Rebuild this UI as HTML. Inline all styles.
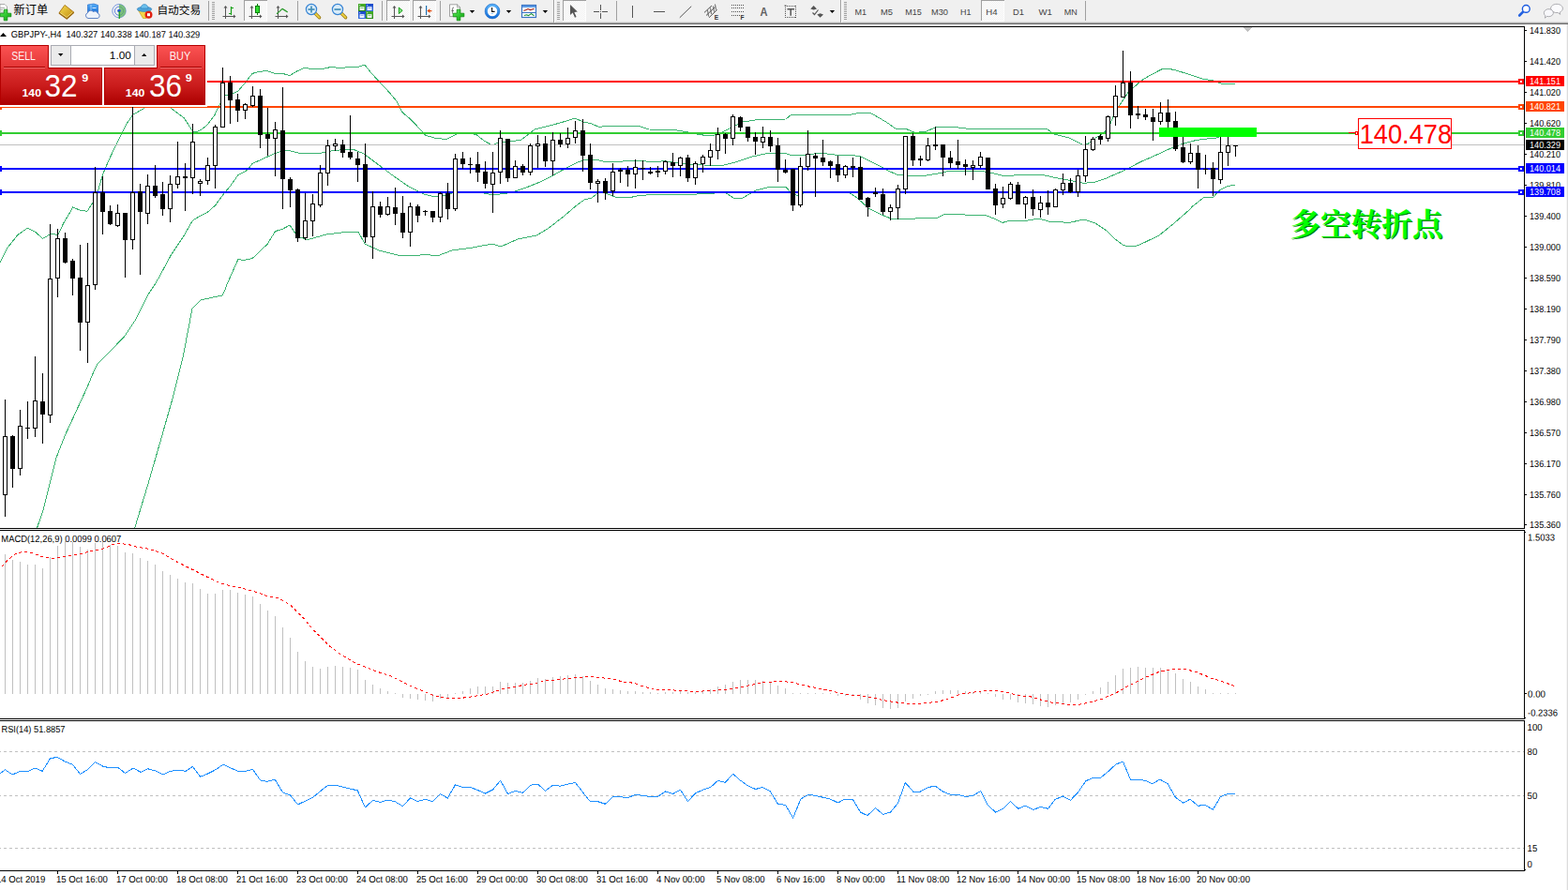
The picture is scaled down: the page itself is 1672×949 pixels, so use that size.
<!DOCTYPE html>
<html><head><meta charset="utf-8"><title>GBPJPY H4</title>
<style>
html,body{margin:0;padding:0;background:#fff;}
body{width:1672px;height:949px;overflow:hidden;position:relative;font-family:"Liberation Sans", sans-serif;}
#tb{position:absolute;left:0;top:0;width:1672px;height:26px;background:#f0f0f0;}
#tbl0{position:absolute;left:0;top:23px;width:1672px;height:1px;background:#dcdcdc;}
#tbl1{position:absolute;left:0;top:24px;width:1672px;height:1px;background:#a6a6a6;}
#tbl2{position:absolute;left:0;top:25px;width:1672px;height:1px;background:#6e6e6e;}
#redge{position:absolute;left:1670px;top:26px;width:2px;height:923px;background:linear-gradient(90deg,#f6f6f6 50%,#dcdcdc 50%);}
svg{position:absolute;left:0;top:0;}
svg text{font-family:"Liberation Sans", sans-serif;}

</style></head>
<body>
<div id="tb"></div><div id="tbl0"></div><div id="tbl1"></div><div id="tbl2"></div><div id="redge"></div>
<svg width="1672" height="949" viewBox="0 0 1672 949">
<defs><clipPath id="mainclip"><rect x="0" y="29" width="1625" height="534"/></clipPath></defs>
<rect x="0" y="28" width="1626" height="1" fill="#000" />
<rect x="0" y="563" width="1626" height="1" fill="#000" />
<rect x="1625" y="28" width="1" height="536" fill="#000" />
<rect x="0" y="565" width="1626" height="1" fill="#000" />
<rect x="0" y="766" width="1626" height="1" fill="#000" />
<rect x="1625" y="565" width="1" height="202" fill="#000" />
<rect x="0" y="768" width="1626" height="1" fill="#000" />
<rect x="0" y="928" width="1626" height="1" fill="#000" />
<rect x="1625" y="768" width="1" height="161" fill="#000" />
<g clip-path="url(#mainclip)" shape-rendering="crispEdges">
<polyline points="0.0,279.8 7.6,264.6 19.0,250.4 29.4,243.2 38.0,247.5 45.5,254.5 54.0,249.4 61.7,250.4 68.3,237.0 77.8,221.0 85.4,224.2 93.0,225.3 99.2,215.6 104.5,203.7 109.8,185.3 116.0,171.0 123.6,154.5 134.5,132.7 142.0,122.0 153.0,116.0 160.0,110.0 168.0,107.5 176.0,110.0 183.0,116.0 196.0,125.5 205.5,140.0 211.0,140.0 215.0,138.0 220.7,133.7 229.0,122.5 235.4,108.8 240.5,101.2 244.0,101.2 249.4,99.2 253.8,97.3 261.0,88.7 268.8,78.7 272.4,77.2 283.9,75.4 292.5,78.3 301.0,78.3 309.0,80.5 315.5,76.5 324.8,72.2 331.3,73.4 344.2,73.4 352.8,71.5 362.8,72.5 372.9,71.5 382.9,71.0 388.7,69.0 396.6,78.7 405.9,88.7 416.0,99.5 423.0,108.0 428.9,119.6 438.9,128.2 449.0,139.0 454.0,144.4 465.0,147.5 476.0,148.4 488.0,142.4 498.0,141.5 508.0,143.6 516.0,150.0 525.0,155.0 533.0,151.0 544.0,151.0 556.0,149.0 570.0,138.0 588.0,133.6 604.0,129.0 613.0,126.0 622.0,130.0 630.0,131.6 639.0,135.6 648.0,134.0 680.0,134.0 692.0,138.0 720.0,138.6 734.0,141.0 746.0,143.6 758.0,145.0 766.0,143.0 780.0,136.0 792.0,130.0 808.0,127.6 838.0,127.0 844.0,122.0 908.0,122.0 916.0,120.4 928.0,120.4 938.0,126.0 948.0,132.0 956.0,138.0 966.0,137.4 976.0,141.5 988.0,140.0 998.0,135.6 1014.0,135.0 1038.0,138.0 1068.0,137.0 1098.0,138.0 1116.0,137.0 1124.0,143.0 1140.0,147.0 1148.0,151.0 1156.0,155.0 1161.0,152.8 1168.0,147.0 1172.0,145.0 1179.0,139.5 1183.0,134.0 1188.0,122.0 1194.0,112.0 1203.0,98.6 1214.0,88.6 1216.4,86.4 1225.0,81.0 1238.5,74.0 1245.0,73.0 1254.0,75.0 1269.5,79.8 1282.7,84.2 1293.8,85.8 1302.7,89.3 1309.0,90.0 1317.0,89.7" fill="none" stroke="#3cb371" stroke-width="1" />
<polyline points="39.4,563.4 46.6,541.9 53.7,513.2 60.0,488.0 69.9,463.0 80.6,439.8 93.0,413.0 98.7,399.3 103.4,388.9 113.9,378.4 132.8,358.5 144.2,341.4 157.5,314.9 164.4,304.5 170.0,295.0 182.2,272.2 195.4,252.5 205.3,235.3 212.5,230.7 221.7,226.0 229.6,218.9 238.9,206.4 245.5,198.4 254.0,186.6 263.9,181.3 269.0,174.5 285.5,167.0 296.0,162.4 306.0,160.0 322.0,164.0 340.0,163.6 356.0,160.4 376.0,159.0 388.0,164.0 404.0,176.0 420.0,188.0 436.0,199.0 452.0,207.0 464.0,210.0 476.0,208.0 488.0,204.0 505.0,204.0 516.0,206.0 526.0,208.0 544.0,205.6 562.0,199.6 576.0,194.0 588.0,188.0 604.0,179.0 616.0,173.0 622.0,171.0 636.0,170.0 646.0,173.0 682.0,171.0 696.0,173.0 708.0,171.6 718.0,173.0 734.0,175.0 750.0,176.0 770.0,176.4 782.0,173.6 802.0,167.0 818.0,163.6 838.0,163.6 844.0,165.6 858.0,165.6 874.0,163.0 890.0,165.0 910.0,165.6 918.0,167.0 928.0,172.0 940.0,178.0 948.0,182.4 956.0,186.0 968.0,187.6 984.0,187.6 1000.0,185.0 1012.0,182.4 1028.0,183.0 1048.0,182.6 1060.0,185.0 1070.0,187.6 1088.0,186.6 1114.0,187.0 1128.0,190.0 1144.0,193.0 1156.0,195.4 1168.0,194.0 1178.8,190.4 1194.0,183.8 1206.0,178.0 1216.0,172.7 1228.0,167.5 1238.5,162.7 1251.6,156.7 1261.8,153.2 1275.7,149.4 1287.0,148.0 1294.7,147.6 1301.0,145.8 1309.0,144.0 1317.0,143.5" fill="none" stroke="#3cb371" stroke-width="1" />
<polyline points="143.7,563.0 159.0,512.4 171.3,469.6 183.5,426.8 195.7,377.9 205.0,329.0 214.0,319.8 237.0,315.0 240.0,309.0 241.5,304.5 254.0,276.4 260.0,277.5 269.2,275.5 285.0,260.4 293.6,246.5 300.8,244.6 309.0,240.0 317.0,252.0 328.0,255.6 348.0,250.0 364.0,248.0 382.0,247.0 389.0,260.0 404.0,267.0 424.0,272.0 444.0,273.0 452.0,271.0 466.0,273.0 482.0,267.0 504.0,264.0 525.0,260.0 534.0,263.0 552.0,255.0 572.0,251.0 584.0,244.0 602.0,230.0 616.0,218.0 624.0,212.4 630.0,211.6 640.0,204.0 656.0,210.0 670.0,211.0 682.0,208.4 708.0,207.0 732.0,208.0 750.0,206.4 774.0,205.6 782.0,211.0 792.0,211.0 806.0,203.0 820.0,199.4 838.0,199.4 844.0,206.0 850.0,208.4 860.0,205.0 906.0,205.6 914.0,211.0 926.0,222.0 940.0,229.0 950.0,233.0 968.0,234.0 984.0,232.0 998.0,233.0 1006.0,229.0 1018.0,228.0 1036.0,229.6 1052.0,230.0 1060.0,233.0 1069.0,237.4 1076.0,235.6 1096.0,235.0 1108.0,233.0 1118.0,236.0 1140.0,237.4 1156.0,234.0 1168.0,238.0 1180.0,246.0 1188.0,254.0 1198.0,261.6 1206.0,263.0 1214.0,261.6 1236.0,251.0 1252.0,238.0 1268.0,224.0 1272.0,219.6 1283.3,211.0 1293.4,210.4 1301.0,202.5 1308.6,198.5 1316.8,197.2" fill="none" stroke="#3cb371" stroke-width="1" />
</g>
<rect x="0" y="154" width="1625" height="1" fill="#c0c0c0" />
<rect x="221" y="86" width="1404" height="2" fill="#ff0000" />
<rect x="0" y="113" width="1625" height="2" fill="#ff4500" />
<rect x="0" y="141" width="1625" height="2" fill="#32cd32" />
<rect x="0" y="179" width="1625" height="2" fill="#0000ff" />
<rect x="0" y="204" width="1625" height="2" fill="#0000ff" />
<rect x="0" y="111" width="2" height="6" fill="#ff4500" />
<rect x="0" y="139" width="2" height="6" fill="#32cd32" />
<rect x="0" y="177" width="2" height="6" fill="#0000ff" />
<rect x="0" y="202" width="2" height="6" fill="#0000ff" />
<g shape-rendering="crispEdges">
<rect x="5" y="426" width="1" height="125" fill="#000" />
<rect x="3" y="465" width="5" height="63" fill="#000" />
<rect x="4" y="466" width="3" height="61" fill="#fff" />
<rect x="13" y="464" width="1" height="56" fill="#000" />
<rect x="11" y="465" width="5" height="35" fill="#000" />
<rect x="21" y="437" width="1" height="70" fill="#000" />
<rect x="19" y="454" width="5" height="46" fill="#000" />
<rect x="20" y="455" width="3" height="44" fill="#fff" />
<rect x="29" y="428" width="1" height="40" fill="#000" />
<rect x="27" y="456" width="5" height="1" fill="#000" />
<rect x="37" y="380" width="1" height="86" fill="#000" />
<rect x="35" y="427" width="5" height="30" fill="#000" />
<rect x="36" y="428" width="3" height="28" fill="#fff" />
<rect x="45" y="398" width="1" height="75" fill="#000" />
<rect x="43" y="428" width="5" height="14" fill="#000" />
<rect x="53" y="239" width="1" height="212" fill="#000" />
<rect x="51" y="297" width="5" height="146" fill="#000" />
<rect x="52" y="298" width="3" height="144" fill="#fff" />
<rect x="61" y="244" width="1" height="73" fill="#000" />
<rect x="59" y="254" width="5" height="43" fill="#000" />
<rect x="60" y="255" width="3" height="41" fill="#fff" />
<rect x="69" y="248" width="1" height="33" fill="#000" />
<rect x="67" y="254" width="5" height="26" fill="#000" />
<rect x="77" y="276" width="1" height="39" fill="#000" />
<rect x="75" y="278" width="5" height="19" fill="#000" />
<rect x="85" y="261" width="1" height="113" fill="#000" />
<rect x="83" y="296" width="5" height="48" fill="#000" />
<rect x="93" y="259" width="1" height="128" fill="#000" />
<rect x="91" y="304" width="5" height="40" fill="#000" />
<rect x="92" y="305" width="3" height="38" fill="#fff" />
<rect x="101" y="178" width="1" height="131" fill="#000" />
<rect x="99" y="205" width="5" height="99" fill="#000" />
<rect x="100" y="206" width="3" height="97" fill="#fff" />
<rect x="109" y="188" width="1" height="62" fill="#000" />
<rect x="107" y="205" width="5" height="21" fill="#000" />
<rect x="117" y="219" width="1" height="21" fill="#000" />
<rect x="115" y="225" width="5" height="14" fill="#000" />
<rect x="125" y="218" width="1" height="24" fill="#000" />
<rect x="123" y="227" width="5" height="14" fill="#000" />
<rect x="124" y="228" width="3" height="12" fill="#fff" />
<rect x="133" y="227" width="1" height="69" fill="#000" />
<rect x="131" y="227" width="5" height="29" fill="#000" />
<rect x="141" y="114" width="1" height="152" fill="#000" />
<rect x="139" y="205" width="5" height="51" fill="#000" />
<rect x="140" y="206" width="3" height="49" fill="#fff" />
<rect x="149" y="196" width="1" height="97" fill="#000" />
<rect x="147" y="204" width="5" height="22" fill="#000" />
<rect x="157" y="186" width="1" height="53" fill="#000" />
<rect x="155" y="198" width="5" height="30" fill="#000" />
<rect x="156" y="199" width="3" height="28" fill="#fff" />
<rect x="165" y="176" width="1" height="35" fill="#000" />
<rect x="163" y="198" width="5" height="11" fill="#000" />
<rect x="173" y="194" width="1" height="36" fill="#000" />
<rect x="171" y="207" width="5" height="16" fill="#000" />
<rect x="181" y="187" width="1" height="50" fill="#000" />
<rect x="179" y="196" width="5" height="27" fill="#000" />
<rect x="180" y="197" width="3" height="25" fill="#fff" />
<rect x="189" y="151" width="1" height="50" fill="#000" />
<rect x="187" y="188" width="5" height="9" fill="#000" />
<rect x="188" y="189" width="3" height="7" fill="#fff" />
<rect x="197" y="174" width="1" height="51" fill="#000" />
<rect x="195" y="188" width="5" height="2" fill="#000" />
<rect x="205" y="132" width="1" height="75" fill="#000" />
<rect x="203" y="151" width="5" height="39" fill="#000" />
<rect x="204" y="152" width="3" height="37" fill="#fff" />
<rect x="213" y="191" width="1" height="18" fill="#000" />
<rect x="211" y="193" width="5" height="3" fill="#000" />
<rect x="212" y="194" width="3" height="1" fill="#fff" />
<rect x="221" y="168" width="1" height="29" fill="#000" />
<rect x="219" y="176" width="5" height="17" fill="#000" />
<rect x="220" y="177" width="3" height="15" fill="#fff" />
<rect x="229" y="133" width="1" height="68" fill="#000" />
<rect x="227" y="135" width="5" height="42" fill="#000" />
<rect x="228" y="136" width="3" height="40" fill="#fff" />
<rect x="237" y="72" width="1" height="64" fill="#000" />
<rect x="235" y="88" width="5" height="48" fill="#000" />
<rect x="236" y="89" width="3" height="46" fill="#fff" />
<rect x="245" y="81" width="1" height="51" fill="#000" />
<rect x="243" y="88" width="5" height="19" fill="#000" />
<rect x="253" y="100" width="1" height="30" fill="#000" />
<rect x="251" y="106" width="5" height="12" fill="#000" />
<rect x="261" y="110" width="1" height="17" fill="#000" />
<rect x="259" y="111" width="5" height="7" fill="#000" />
<rect x="260" y="112" width="3" height="5" fill="#fff" />
<rect x="269" y="92" width="1" height="22" fill="#000" />
<rect x="267" y="102" width="5" height="11" fill="#000" />
<rect x="268" y="103" width="3" height="9" fill="#fff" />
<rect x="277" y="95" width="1" height="63" fill="#000" />
<rect x="275" y="102" width="5" height="42" fill="#000" />
<rect x="285" y="115" width="1" height="51" fill="#000" />
<rect x="283" y="143" width="5" height="5" fill="#000" />
<rect x="293" y="130" width="1" height="58" fill="#000" />
<rect x="291" y="138" width="5" height="10" fill="#000" />
<rect x="292" y="139" width="3" height="8" fill="#fff" />
<rect x="301" y="93" width="1" height="130" fill="#000" />
<rect x="299" y="139" width="5" height="52" fill="#000" />
<rect x="309" y="189" width="1" height="32" fill="#000" />
<rect x="307" y="191" width="5" height="12" fill="#000" />
<rect x="317" y="201" width="1" height="57" fill="#000" />
<rect x="315" y="202" width="5" height="52" fill="#000" />
<rect x="325" y="206" width="1" height="50" fill="#000" />
<rect x="323" y="235" width="5" height="19" fill="#000" />
<rect x="324" y="236" width="3" height="17" fill="#fff" />
<rect x="333" y="207" width="1" height="45" fill="#000" />
<rect x="331" y="217" width="5" height="19" fill="#000" />
<rect x="332" y="218" width="3" height="17" fill="#fff" />
<rect x="341" y="176" width="1" height="45" fill="#000" />
<rect x="339" y="184" width="5" height="35" fill="#000" />
<rect x="340" y="185" width="3" height="33" fill="#fff" />
<rect x="349" y="149" width="1" height="49" fill="#000" />
<rect x="347" y="155" width="5" height="30" fill="#000" />
<rect x="348" y="156" width="3" height="28" fill="#fff" />
<rect x="357" y="148" width="1" height="13" fill="#000" />
<rect x="355" y="153" width="5" height="3" fill="#000" />
<rect x="356" y="154" width="3" height="1" fill="#fff" />
<rect x="365" y="149" width="1" height="19" fill="#000" />
<rect x="363" y="154" width="5" height="9" fill="#000" />
<rect x="373" y="123" width="1" height="47" fill="#000" />
<rect x="371" y="162" width="5" height="6" fill="#000" />
<rect x="381" y="162" width="1" height="32" fill="#000" />
<rect x="379" y="169" width="5" height="7" fill="#000" />
<rect x="389" y="153" width="1" height="106" fill="#000" />
<rect x="387" y="175" width="5" height="78" fill="#000" />
<rect x="397" y="204" width="1" height="72" fill="#000" />
<rect x="395" y="220" width="5" height="33" fill="#000" />
<rect x="396" y="221" width="3" height="31" fill="#fff" />
<rect x="405" y="215" width="1" height="17" fill="#000" />
<rect x="403" y="220" width="5" height="9" fill="#000" />
<rect x="413" y="210" width="1" height="20" fill="#000" />
<rect x="411" y="220" width="5" height="9" fill="#000" />
<rect x="412" y="221" width="3" height="7" fill="#fff" />
<rect x="421" y="200" width="1" height="40" fill="#000" />
<rect x="419" y="221" width="5" height="7" fill="#000" />
<rect x="429" y="209" width="1" height="45" fill="#000" />
<rect x="427" y="227" width="5" height="21" fill="#000" />
<rect x="437" y="216" width="1" height="47" fill="#000" />
<rect x="435" y="220" width="5" height="28" fill="#000" />
<rect x="436" y="221" width="3" height="26" fill="#fff" />
<rect x="445" y="218" width="1" height="19" fill="#000" />
<rect x="443" y="220" width="5" height="10" fill="#000" />
<rect x="453" y="224" width="1" height="6" fill="#000" />
<rect x="451" y="225" width="5" height="1" fill="#000" />
<rect x="461" y="225" width="1" height="12" fill="#000" />
<rect x="459" y="225" width="5" height="7" fill="#000" />
<rect x="469" y="205" width="1" height="32" fill="#000" />
<rect x="467" y="206" width="5" height="26" fill="#000" />
<rect x="468" y="207" width="3" height="24" fill="#fff" />
<rect x="477" y="195" width="1" height="39" fill="#000" />
<rect x="475" y="206" width="5" height="17" fill="#000" />
<rect x="485" y="164" width="1" height="61" fill="#000" />
<rect x="483" y="169" width="5" height="54" fill="#000" />
<rect x="484" y="170" width="3" height="52" fill="#fff" />
<rect x="493" y="162" width="1" height="18" fill="#000" />
<rect x="491" y="169" width="5" height="6" fill="#000" />
<rect x="501" y="168" width="1" height="17" fill="#000" />
<rect x="499" y="175" width="5" height="1" fill="#000" />
<rect x="509" y="162" width="1" height="32" fill="#000" />
<rect x="507" y="175" width="5" height="9" fill="#000" />
<rect x="517" y="172" width="1" height="29" fill="#000" />
<rect x="515" y="183" width="5" height="13" fill="#000" />
<rect x="525" y="162" width="1" height="65" fill="#000" />
<rect x="523" y="184" width="5" height="13" fill="#000" />
<rect x="524" y="185" width="3" height="11" fill="#fff" />
<rect x="533" y="139" width="1" height="57" fill="#000" />
<rect x="531" y="147" width="5" height="37" fill="#000" />
<rect x="532" y="148" width="3" height="35" fill="#fff" />
<rect x="541" y="148" width="1" height="46" fill="#000" />
<rect x="539" y="148" width="5" height="42" fill="#000" />
<rect x="549" y="171" width="1" height="18" fill="#000" />
<rect x="547" y="177" width="5" height="13" fill="#000" />
<rect x="548" y="178" width="3" height="11" fill="#fff" />
<rect x="557" y="175" width="1" height="12" fill="#000" />
<rect x="555" y="177" width="5" height="7" fill="#000" />
<rect x="565" y="153" width="1" height="34" fill="#000" />
<rect x="563" y="155" width="5" height="29" fill="#000" />
<rect x="564" y="156" width="3" height="27" fill="#fff" />
<rect x="573" y="144" width="1" height="35" fill="#000" />
<rect x="571" y="153" width="5" height="3" fill="#000" />
<rect x="572" y="154" width="3" height="1" fill="#fff" />
<rect x="581" y="145" width="1" height="33" fill="#000" />
<rect x="579" y="153" width="5" height="19" fill="#000" />
<rect x="589" y="141" width="1" height="46" fill="#000" />
<rect x="587" y="149" width="5" height="23" fill="#000" />
<rect x="588" y="150" width="3" height="21" fill="#fff" />
<rect x="597" y="142" width="1" height="15" fill="#000" />
<rect x="595" y="149" width="5" height="5" fill="#000" />
<rect x="605" y="136" width="1" height="22" fill="#000" />
<rect x="603" y="147" width="5" height="7" fill="#000" />
<rect x="604" y="148" width="3" height="5" fill="#fff" />
<rect x="613" y="129" width="1" height="24" fill="#000" />
<rect x="611" y="139" width="5" height="8" fill="#000" />
<rect x="612" y="140" width="3" height="6" fill="#fff" />
<rect x="621" y="127" width="1" height="56" fill="#000" />
<rect x="619" y="139" width="5" height="27" fill="#000" />
<rect x="629" y="153" width="1" height="49" fill="#000" />
<rect x="627" y="165" width="5" height="30" fill="#000" />
<rect x="637" y="191" width="1" height="25" fill="#000" />
<rect x="635" y="193" width="5" height="3" fill="#000" />
<rect x="636" y="194" width="3" height="1" fill="#fff" />
<rect x="645" y="190" width="1" height="23" fill="#000" />
<rect x="643" y="193" width="5" height="13" fill="#000" />
<rect x="653" y="174" width="1" height="35" fill="#000" />
<rect x="651" y="183" width="5" height="21" fill="#000" />
<rect x="652" y="184" width="3" height="19" fill="#fff" />
<rect x="661" y="179" width="1" height="16" fill="#000" />
<rect x="659" y="181" width="5" height="2" fill="#000" />
<rect x="669" y="177" width="1" height="22" fill="#000" />
<rect x="667" y="181" width="5" height="5" fill="#000" />
<rect x="677" y="170" width="1" height="31" fill="#000" />
<rect x="675" y="178" width="5" height="8" fill="#000" />
<rect x="676" y="179" width="3" height="6" fill="#fff" />
<rect x="685" y="171" width="1" height="21" fill="#000" />
<rect x="683" y="179" width="5" height="1" fill="#000" />
<rect x="693" y="178" width="1" height="8" fill="#000" />
<rect x="691" y="183" width="5" height="2" fill="#000" />
<rect x="701" y="177" width="1" height="12" fill="#000" />
<rect x="699" y="182" width="5" height="2" fill="#000" />
<rect x="709" y="171" width="1" height="15" fill="#000" />
<rect x="707" y="172" width="5" height="11" fill="#000" />
<rect x="708" y="173" width="3" height="9" fill="#fff" />
<rect x="717" y="163" width="1" height="26" fill="#000" />
<rect x="715" y="173" width="5" height="4" fill="#000" />
<rect x="725" y="167" width="1" height="21" fill="#000" />
<rect x="723" y="168" width="5" height="9" fill="#000" />
<rect x="724" y="169" width="3" height="7" fill="#fff" />
<rect x="733" y="165" width="1" height="29" fill="#000" />
<rect x="731" y="168" width="5" height="22" fill="#000" />
<rect x="741" y="172" width="1" height="25" fill="#000" />
<rect x="739" y="174" width="5" height="16" fill="#000" />
<rect x="740" y="175" width="3" height="14" fill="#fff" />
<rect x="749" y="165" width="1" height="19" fill="#000" />
<rect x="747" y="167" width="5" height="8" fill="#000" />
<rect x="748" y="168" width="3" height="6" fill="#fff" />
<rect x="757" y="153" width="1" height="24" fill="#000" />
<rect x="755" y="160" width="5" height="8" fill="#000" />
<rect x="756" y="161" width="3" height="6" fill="#fff" />
<rect x="765" y="136" width="1" height="34" fill="#000" />
<rect x="763" y="143" width="5" height="18" fill="#000" />
<rect x="764" y="144" width="3" height="16" fill="#fff" />
<rect x="773" y="142" width="1" height="22" fill="#000" />
<rect x="771" y="143" width="5" height="5" fill="#000" />
<rect x="781" y="122" width="1" height="33" fill="#000" />
<rect x="779" y="124" width="5" height="24" fill="#000" />
<rect x="780" y="125" width="3" height="22" fill="#fff" />
<rect x="789" y="124" width="1" height="16" fill="#000" />
<rect x="787" y="125" width="5" height="11" fill="#000" />
<rect x="797" y="135" width="1" height="16" fill="#000" />
<rect x="795" y="135" width="5" height="12" fill="#000" />
<rect x="805" y="141" width="1" height="24" fill="#000" />
<rect x="803" y="146" width="5" height="5" fill="#000" />
<rect x="813" y="135" width="1" height="23" fill="#000" />
<rect x="811" y="146" width="5" height="6" fill="#000" />
<rect x="812" y="147" width="3" height="4" fill="#fff" />
<rect x="821" y="139" width="1" height="23" fill="#000" />
<rect x="819" y="146" width="5" height="10" fill="#000" />
<rect x="829" y="147" width="1" height="47" fill="#000" />
<rect x="827" y="155" width="5" height="26" fill="#000" />
<rect x="837" y="170" width="1" height="15" fill="#000" />
<rect x="835" y="181" width="5" height="3" fill="#000" />
<rect x="845" y="180" width="1" height="45" fill="#000" />
<rect x="843" y="180" width="5" height="39" fill="#000" />
<rect x="853" y="168" width="1" height="53" fill="#000" />
<rect x="851" y="177" width="5" height="42" fill="#000" />
<rect x="852" y="178" width="3" height="40" fill="#fff" />
<rect x="861" y="139" width="1" height="43" fill="#000" />
<rect x="859" y="164" width="5" height="14" fill="#000" />
<rect x="860" y="165" width="3" height="12" fill="#fff" />
<rect x="869" y="163" width="1" height="47" fill="#000" />
<rect x="867" y="166" width="5" height="3" fill="#000" />
<rect x="877" y="149" width="1" height="28" fill="#000" />
<rect x="875" y="168" width="5" height="5" fill="#000" />
<rect x="885" y="171" width="1" height="19" fill="#000" />
<rect x="883" y="172" width="5" height="5" fill="#000" />
<rect x="893" y="166" width="1" height="28" fill="#000" />
<rect x="891" y="175" width="5" height="12" fill="#000" />
<rect x="901" y="176" width="1" height="14" fill="#000" />
<rect x="899" y="177" width="5" height="10" fill="#000" />
<rect x="900" y="178" width="3" height="8" fill="#fff" />
<rect x="909" y="168" width="1" height="21" fill="#000" />
<rect x="907" y="177" width="5" height="2" fill="#000" />
<rect x="917" y="167" width="1" height="45" fill="#000" />
<rect x="915" y="178" width="5" height="35" fill="#000" />
<rect x="925" y="210" width="1" height="21" fill="#000" />
<rect x="923" y="211" width="5" height="10" fill="#000" />
<rect x="933" y="200" width="1" height="10" fill="#000" />
<rect x="931" y="205" width="5" height="2" fill="#000" />
<rect x="941" y="201" width="1" height="28" fill="#000" />
<rect x="939" y="207" width="5" height="19" fill="#000" />
<rect x="949" y="218" width="1" height="17" fill="#000" />
<rect x="947" y="221" width="5" height="5" fill="#000" />
<rect x="948" y="222" width="3" height="3" fill="#fff" />
<rect x="957" y="197" width="1" height="37" fill="#000" />
<rect x="955" y="201" width="5" height="21" fill="#000" />
<rect x="956" y="202" width="3" height="19" fill="#fff" />
<rect x="965" y="145" width="1" height="62" fill="#000" />
<rect x="963" y="145" width="5" height="57" fill="#000" />
<rect x="964" y="146" width="3" height="55" fill="#fff" />
<rect x="973" y="142" width="1" height="35" fill="#000" />
<rect x="971" y="145" width="5" height="26" fill="#000" />
<rect x="981" y="166" width="1" height="11" fill="#000" />
<rect x="979" y="169" width="5" height="2" fill="#000" />
<rect x="989" y="147" width="1" height="25" fill="#000" />
<rect x="987" y="155" width="5" height="16" fill="#000" />
<rect x="988" y="156" width="3" height="14" fill="#fff" />
<rect x="997" y="135" width="1" height="25" fill="#000" />
<rect x="995" y="154" width="5" height="2" fill="#000" />
<rect x="1005" y="154" width="1" height="34" fill="#000" />
<rect x="1003" y="154" width="5" height="14" fill="#000" />
<rect x="1013" y="161" width="1" height="18" fill="#000" />
<rect x="1011" y="168" width="5" height="6" fill="#000" />
<rect x="1021" y="149" width="1" height="31" fill="#000" />
<rect x="1019" y="172" width="5" height="4" fill="#000" />
<rect x="1029" y="170" width="1" height="17" fill="#000" />
<rect x="1027" y="175" width="5" height="3" fill="#000" />
<rect x="1037" y="171" width="1" height="21" fill="#000" />
<rect x="1035" y="176" width="5" height="3" fill="#000" />
<rect x="1036" y="177" width="3" height="1" fill="#fff" />
<rect x="1045" y="162" width="1" height="17" fill="#000" />
<rect x="1043" y="167" width="5" height="10" fill="#000" />
<rect x="1044" y="168" width="3" height="8" fill="#fff" />
<rect x="1053" y="168" width="1" height="33" fill="#000" />
<rect x="1051" y="168" width="5" height="34" fill="#000" />
<rect x="1061" y="196" width="1" height="33" fill="#000" />
<rect x="1059" y="201" width="5" height="18" fill="#000" />
<rect x="1069" y="199" width="1" height="23" fill="#000" />
<rect x="1067" y="211" width="5" height="7" fill="#000" />
<rect x="1068" y="212" width="3" height="5" fill="#fff" />
<rect x="1077" y="194" width="1" height="19" fill="#000" />
<rect x="1075" y="196" width="5" height="16" fill="#000" />
<rect x="1076" y="197" width="3" height="14" fill="#fff" />
<rect x="1085" y="194" width="1" height="23" fill="#000" />
<rect x="1083" y="197" width="5" height="21" fill="#000" />
<rect x="1093" y="209" width="1" height="24" fill="#000" />
<rect x="1091" y="210" width="5" height="8" fill="#000" />
<rect x="1092" y="211" width="3" height="6" fill="#fff" />
<rect x="1101" y="202" width="1" height="28" fill="#000" />
<rect x="1099" y="210" width="5" height="13" fill="#000" />
<rect x="1109" y="209" width="1" height="23" fill="#000" />
<rect x="1107" y="216" width="5" height="8" fill="#000" />
<rect x="1108" y="217" width="3" height="6" fill="#fff" />
<rect x="1117" y="203" width="1" height="26" fill="#000" />
<rect x="1115" y="216" width="5" height="5" fill="#000" />
<rect x="1125" y="201" width="1" height="19" fill="#000" />
<rect x="1123" y="202" width="5" height="19" fill="#000" />
<rect x="1124" y="203" width="3" height="17" fill="#fff" />
<rect x="1133" y="185" width="1" height="23" fill="#000" />
<rect x="1131" y="195" width="5" height="8" fill="#000" />
<rect x="1132" y="196" width="3" height="6" fill="#fff" />
<rect x="1141" y="190" width="1" height="16" fill="#000" />
<rect x="1139" y="195" width="5" height="10" fill="#000" />
<rect x="1149" y="181" width="1" height="29" fill="#000" />
<rect x="1147" y="187" width="5" height="18" fill="#000" />
<rect x="1148" y="188" width="3" height="16" fill="#fff" />
<rect x="1157" y="145" width="1" height="49" fill="#000" />
<rect x="1155" y="159" width="5" height="29" fill="#000" />
<rect x="1156" y="160" width="3" height="27" fill="#fff" />
<rect x="1165" y="146" width="1" height="15" fill="#000" />
<rect x="1163" y="148" width="5" height="12" fill="#000" />
<rect x="1164" y="149" width="3" height="10" fill="#fff" />
<rect x="1173" y="143" width="1" height="11" fill="#000" />
<rect x="1171" y="145" width="5" height="4" fill="#000" />
<rect x="1181" y="123" width="1" height="28" fill="#000" />
<rect x="1179" y="124" width="5" height="24" fill="#000" />
<rect x="1180" y="125" width="3" height="22" fill="#fff" />
<rect x="1189" y="91" width="1" height="43" fill="#000" />
<rect x="1187" y="102" width="5" height="23" fill="#000" />
<rect x="1188" y="103" width="3" height="21" fill="#fff" />
<rect x="1197" y="54" width="1" height="49" fill="#000" />
<rect x="1195" y="88" width="5" height="16" fill="#000" />
<rect x="1196" y="89" width="3" height="14" fill="#fff" />
<rect x="1205" y="76" width="1" height="61" fill="#000" />
<rect x="1203" y="88" width="5" height="35" fill="#000" />
<rect x="1213" y="113" width="1" height="14" fill="#000" />
<rect x="1211" y="121" width="5" height="2" fill="#000" />
<rect x="1221" y="116" width="1" height="12" fill="#000" />
<rect x="1219" y="122" width="5" height="3" fill="#000" />
<rect x="1229" y="116" width="1" height="34" fill="#000" />
<rect x="1227" y="125" width="5" height="5" fill="#000" />
<rect x="1237" y="109" width="1" height="24" fill="#000" />
<rect x="1235" y="120" width="5" height="10" fill="#000" />
<rect x="1236" y="121" width="3" height="8" fill="#fff" />
<rect x="1245" y="106" width="1" height="30" fill="#000" />
<rect x="1243" y="120" width="5" height="10" fill="#000" />
<rect x="1253" y="119" width="1" height="42" fill="#000" />
<rect x="1251" y="129" width="5" height="30" fill="#000" />
<rect x="1261" y="146" width="1" height="28" fill="#000" />
<rect x="1259" y="157" width="5" height="16" fill="#000" />
<rect x="1269" y="153" width="1" height="22" fill="#000" />
<rect x="1267" y="163" width="5" height="10" fill="#000" />
<rect x="1268" y="164" width="3" height="8" fill="#fff" />
<rect x="1277" y="155" width="1" height="46" fill="#000" />
<rect x="1275" y="163" width="5" height="18" fill="#000" />
<rect x="1285" y="165" width="1" height="21" fill="#000" />
<rect x="1283" y="180" width="5" height="1" fill="#000" />
<rect x="1293" y="173" width="1" height="36" fill="#000" />
<rect x="1291" y="179" width="5" height="12" fill="#000" />
<rect x="1301" y="146" width="1" height="50" fill="#000" />
<rect x="1299" y="162" width="5" height="30" fill="#000" />
<rect x="1300" y="163" width="3" height="28" fill="#fff" />
<rect x="1309" y="146" width="1" height="31" fill="#000" />
<rect x="1307" y="155" width="5" height="8" fill="#000" />
<rect x="1308" y="156" width="3" height="6" fill="#fff" />
<rect x="1317" y="155" width="1" height="12" fill="#000" />
<rect x="1315" y="155" width="5" height="1" fill="#000" />
</g>
<rect x="1236" y="136" width="104" height="10" fill="#00ff00" />
<rect x="1326" y="29" width="9" height="1" fill="#c0c0c0" />
<rect x="1327" y="30" width="7" height="1" fill="#c0c0c0" />
<rect x="1328" y="31" width="5" height="1" fill="#c0c0c0" />
<rect x="1329" y="32" width="3" height="1" fill="#c0c0c0" />
<rect x="1330" y="33" width="1" height="1" fill="#c0c0c0" />
<rect x="1626" y="32" width="2" height="1" fill="#000" />
<text transform="translate(1631,36) rotate(0.05) scale(1.0000,1)" font-size="10.2" fill="#000" text-anchor="start" font-weight="normal" textLength="33" lengthAdjust="spacingAndGlyphs" >141.830</text>
<rect x="1626" y="65" width="2" height="1" fill="#000" />
<text transform="translate(1631,69) rotate(0.05) scale(1.0000,1)" font-size="10.2" fill="#000" text-anchor="start" font-weight="normal" textLength="33" lengthAdjust="spacingAndGlyphs" >141.420</text>
<rect x="1626" y="98" width="2" height="1" fill="#000" />
<text transform="translate(1631,102) rotate(0.05) scale(1.0000,1)" font-size="10.2" fill="#000" text-anchor="start" font-weight="normal" textLength="33" lengthAdjust="spacingAndGlyphs" >141.020</text>
<rect x="1626" y="131" width="2" height="1" fill="#000" />
<text transform="translate(1631,135) rotate(0.05) scale(1.0000,1)" font-size="10.2" fill="#000" text-anchor="start" font-weight="normal" textLength="33" lengthAdjust="spacingAndGlyphs" >140.620</text>
<rect x="1626" y="164" width="2" height="1" fill="#000" />
<text transform="translate(1631,168) rotate(0.05) scale(1.0000,1)" font-size="10.2" fill="#000" text-anchor="start" font-weight="normal" textLength="33" lengthAdjust="spacingAndGlyphs" >140.210</text>
<rect x="1626" y="197" width="2" height="1" fill="#000" />
<text transform="translate(1631,201) rotate(0.05) scale(1.0000,1)" font-size="10.2" fill="#000" text-anchor="start" font-weight="normal" textLength="33" lengthAdjust="spacingAndGlyphs" >139.810</text>
<rect x="1626" y="230" width="2" height="1" fill="#000" />
<text transform="translate(1631,234) rotate(0.05) scale(1.0000,1)" font-size="10.2" fill="#000" text-anchor="start" font-weight="normal" textLength="33" lengthAdjust="spacingAndGlyphs" >139.400</text>
<rect x="1626" y="263" width="2" height="1" fill="#000" />
<text transform="translate(1631,267) rotate(0.05) scale(1.0000,1)" font-size="10.2" fill="#000" text-anchor="start" font-weight="normal" textLength="33" lengthAdjust="spacingAndGlyphs" >139.000</text>
<rect x="1626" y="296" width="2" height="1" fill="#000" />
<text transform="translate(1631,300) rotate(0.05) scale(1.0000,1)" font-size="10.2" fill="#000" text-anchor="start" font-weight="normal" textLength="33" lengthAdjust="spacingAndGlyphs" >138.590</text>
<rect x="1626" y="329" width="2" height="1" fill="#000" />
<text transform="translate(1631,333) rotate(0.05) scale(1.0000,1)" font-size="10.2" fill="#000" text-anchor="start" font-weight="normal" textLength="33" lengthAdjust="spacingAndGlyphs" >138.190</text>
<rect x="1626" y="362" width="2" height="1" fill="#000" />
<text transform="translate(1631,366) rotate(0.05) scale(1.0000,1)" font-size="10.2" fill="#000" text-anchor="start" font-weight="normal" textLength="33" lengthAdjust="spacingAndGlyphs" >137.790</text>
<rect x="1626" y="395" width="2" height="1" fill="#000" />
<text transform="translate(1631,399) rotate(0.05) scale(1.0000,1)" font-size="10.2" fill="#000" text-anchor="start" font-weight="normal" textLength="33" lengthAdjust="spacingAndGlyphs" >137.380</text>
<rect x="1626" y="428" width="2" height="1" fill="#000" />
<text transform="translate(1631,432) rotate(0.05) scale(1.0000,1)" font-size="10.2" fill="#000" text-anchor="start" font-weight="normal" textLength="33" lengthAdjust="spacingAndGlyphs" >136.980</text>
<rect x="1626" y="461" width="2" height="1" fill="#000" />
<text transform="translate(1631,465) rotate(0.05) scale(1.0000,1)" font-size="10.2" fill="#000" text-anchor="start" font-weight="normal" textLength="33" lengthAdjust="spacingAndGlyphs" >136.570</text>
<rect x="1626" y="494" width="2" height="1" fill="#000" />
<text transform="translate(1631,498) rotate(0.05) scale(1.0000,1)" font-size="10.2" fill="#000" text-anchor="start" font-weight="normal" textLength="33" lengthAdjust="spacingAndGlyphs" >136.170</text>
<rect x="1626" y="527" width="2" height="1" fill="#000" />
<text transform="translate(1631,531) rotate(0.05) scale(1.0000,1)" font-size="10.2" fill="#000" text-anchor="start" font-weight="normal" textLength="33" lengthAdjust="spacingAndGlyphs" >135.760</text>
<rect x="1626" y="559" width="2" height="1" fill="#000" />
<text transform="translate(1631,563) rotate(0.05) scale(1.0000,1)" font-size="10.2" fill="#000" text-anchor="start" font-weight="normal" textLength="33" lengthAdjust="spacingAndGlyphs" >135.360</text>
<rect x="1619" y="84" width="6" height="6" fill="#ff0000" />
<rect x="1621" y="86" width="2" height="2" fill="#fff" />
<rect x="1627" y="81" width="41" height="11" fill="#ff0000" />
<text transform="translate(1631,90) rotate(0.05) scale(1.0000,1)" font-size="10.2" fill="#fff" text-anchor="start" font-weight="normal" textLength="33" lengthAdjust="spacingAndGlyphs" >141.151</text>
<rect x="1619" y="111" width="6" height="6" fill="#ff4500" />
<rect x="1621" y="113" width="2" height="2" fill="#fff" />
<rect x="1627" y="108" width="41" height="11" fill="#ff4500" />
<text transform="translate(1631,117) rotate(0.05) scale(1.0000,1)" font-size="10.2" fill="#fff" text-anchor="start" font-weight="normal" textLength="33" lengthAdjust="spacingAndGlyphs" >140.821</text>
<rect x="1619" y="139" width="6" height="6" fill="#32cd32" />
<rect x="1621" y="141" width="2" height="2" fill="#fff" />
<rect x="1627" y="136" width="41" height="11" fill="#32cd32" />
<text transform="translate(1631,145) rotate(0.05) scale(1.0000,1)" font-size="10.2" fill="#fff" text-anchor="start" font-weight="normal" textLength="33" lengthAdjust="spacingAndGlyphs" >140.478</text>
<rect x="1627" y="149" width="41" height="11" fill="#000" />
<text transform="translate(1631,158) rotate(0.05) scale(1.0000,1)" font-size="10.2" fill="#fff" text-anchor="start" font-weight="normal" textLength="33" lengthAdjust="spacingAndGlyphs" >140.329</text>
<rect x="1619" y="177" width="6" height="6" fill="#0000ff" />
<rect x="1621" y="179" width="2" height="2" fill="#fff" />
<rect x="1627" y="174" width="41" height="11" fill="#0000ff" />
<text transform="translate(1631,183) rotate(0.05) scale(1.0000,1)" font-size="10.2" fill="#fff" text-anchor="start" font-weight="normal" textLength="33" lengthAdjust="spacingAndGlyphs" >140.014</text>
<rect x="1619" y="202" width="6" height="6" fill="#0000ff" />
<rect x="1621" y="204" width="2" height="2" fill="#fff" />
<rect x="1627" y="199" width="41" height="11" fill="#0000ff" />
<text transform="translate(1631,208) rotate(0.05) scale(1.0000,1)" font-size="10.2" fill="#fff" text-anchor="start" font-weight="normal" textLength="33" lengthAdjust="spacingAndGlyphs" >139.708</text>
<rect x="1438" y="141" width="10" height="1" fill="#ff0000" />
<rect x="1445" y="140" width="3" height="4" fill="#ff0000" />
<rect x="1446" y="141" width="1" height="2" fill="#fff" />
<rect x="1448.5" y="126.5" width="99" height="32" fill="#fff" stroke="#ff0000" stroke-width="1"/>
<text transform="translate(1449.7,153.2)" font-size="30" fill="#ff0000" text-anchor="start" font-weight="normal" textLength="98.4" lengthAdjust="spacingAndGlyphs" >140.478</text>
<text x="1376.7" y="251.8" font-size="32.6" font-weight="bold" fill="#008000" textLength="163" lengthAdjust="spacingAndGlyphs" style="font-family:'Liberation Serif','Noto Serif CJK SC',serif;">多空转折点</text>
<text x="1375.5" y="250.6" font-size="32.6" font-weight="bold" fill="#00ff00" textLength="163" lengthAdjust="spacingAndGlyphs" style="font-family:'Liberation Serif','Noto Serif CJK SC',serif;">多空转折点</text>
<path d="M0 39 L3.5 35 L7 39 Z" fill="#000"/>
<text transform="translate(11.8,40) rotate(0.05) scale(1.0000,1)" font-size="10.2" fill="#000" text-anchor="start" font-weight="normal" textLength="201.5" lengthAdjust="spacingAndGlyphs" >GBPJPY-,H4&#160;&#160;140.327 140.338 140.187 140.329</text>
<g shape-rendering="crispEdges">
<rect x="5" y="591" width="1" height="149" fill="#c0c0c0" />
<rect x="13" y="597" width="1" height="143" fill="#c0c0c0" />
<rect x="21" y="599" width="1" height="141" fill="#c0c0c0" />
<rect x="29" y="602" width="1" height="138" fill="#c0c0c0" />
<rect x="37" y="602" width="1" height="138" fill="#c0c0c0" />
<rect x="45" y="606" width="1" height="134" fill="#c0c0c0" />
<rect x="53" y="594" width="1" height="146" fill="#c0c0c0" />
<rect x="61" y="582" width="1" height="158" fill="#c0c0c0" />
<rect x="69" y="577" width="1" height="163" fill="#c0c0c0" />
<rect x="77" y="578" width="1" height="162" fill="#c0c0c0" />
<rect x="85" y="583" width="1" height="157" fill="#c0c0c0" />
<rect x="93" y="586" width="1" height="154" fill="#c0c0c0" />
<rect x="101" y="579" width="1" height="161" fill="#c0c0c0" />
<rect x="109" y="578" width="1" height="162" fill="#c0c0c0" />
<rect x="117" y="581" width="1" height="159" fill="#c0c0c0" />
<rect x="125" y="582" width="1" height="158" fill="#c0c0c0" />
<rect x="133" y="589" width="1" height="151" fill="#c0c0c0" />
<rect x="141" y="590" width="1" height="150" fill="#c0c0c0" />
<rect x="149" y="595" width="1" height="145" fill="#c0c0c0" />
<rect x="157" y="598" width="1" height="142" fill="#c0c0c0" />
<rect x="165" y="602" width="1" height="138" fill="#c0c0c0" />
<rect x="173" y="609" width="1" height="131" fill="#c0c0c0" />
<rect x="181" y="613" width="1" height="127" fill="#c0c0c0" />
<rect x="189" y="617" width="1" height="123" fill="#c0c0c0" />
<rect x="197" y="621" width="1" height="119" fill="#c0c0c0" />
<rect x="205" y="622" width="1" height="118" fill="#c0c0c0" />
<rect x="213" y="628" width="1" height="112" fill="#c0c0c0" />
<rect x="221" y="633" width="1" height="107" fill="#c0c0c0" />
<rect x="229" y="633" width="1" height="107" fill="#c0c0c0" />
<rect x="237" y="629" width="1" height="111" fill="#c0c0c0" />
<rect x="245" y="629" width="1" height="111" fill="#c0c0c0" />
<rect x="253" y="632" width="1" height="108" fill="#c0c0c0" />
<rect x="261" y="634" width="1" height="106" fill="#c0c0c0" />
<rect x="269" y="636" width="1" height="104" fill="#c0c0c0" />
<rect x="277" y="644" width="1" height="96" fill="#c0c0c0" />
<rect x="285" y="651" width="1" height="89" fill="#c0c0c0" />
<rect x="293" y="657" width="1" height="83" fill="#c0c0c0" />
<rect x="301" y="669" width="1" height="71" fill="#c0c0c0" />
<rect x="309" y="680" width="1" height="60" fill="#c0c0c0" />
<rect x="317" y="695" width="1" height="45" fill="#c0c0c0" />
<rect x="325" y="705" width="1" height="35" fill="#c0c0c0" />
<rect x="333" y="711" width="1" height="29" fill="#c0c0c0" />
<rect x="341" y="713" width="1" height="27" fill="#c0c0c0" />
<rect x="349" y="711" width="1" height="29" fill="#c0c0c0" />
<rect x="357" y="710" width="1" height="30" fill="#c0c0c0" />
<rect x="365" y="711" width="1" height="29" fill="#c0c0c0" />
<rect x="373" y="712" width="1" height="28" fill="#c0c0c0" />
<rect x="381" y="714" width="1" height="26" fill="#c0c0c0" />
<rect x="389" y="725" width="1" height="15" fill="#c0c0c0" />
<rect x="397" y="730" width="1" height="10" fill="#c0c0c0" />
<rect x="405" y="734" width="1" height="6" fill="#c0c0c0" />
<rect x="413" y="737" width="1" height="3" fill="#c0c0c0" />
<rect x="421" y="739" width="1" height="1" fill="#c0c0c0" />
<rect x="429" y="740" width="1" height="4" fill="#c0c0c0" />
<rect x="437" y="740" width="1" height="5" fill="#c0c0c0" />
<rect x="445" y="740" width="1" height="6" fill="#c0c0c0" />
<rect x="453" y="740" width="1" height="7" fill="#c0c0c0" />
<rect x="461" y="740" width="1" height="8" fill="#c0c0c0" />
<rect x="469" y="740" width="1" height="5" fill="#c0c0c0" />
<rect x="477" y="740" width="1" height="5" fill="#c0c0c0" />
<rect x="485" y="739" width="1" height="1" fill="#c0c0c0" />
<rect x="493" y="737" width="1" height="3" fill="#c0c0c0" />
<rect x="501" y="734" width="1" height="6" fill="#c0c0c0" />
<rect x="509" y="732" width="1" height="8" fill="#c0c0c0" />
<rect x="517" y="732" width="1" height="8" fill="#c0c0c0" />
<rect x="525" y="732" width="1" height="8" fill="#c0c0c0" />
<rect x="533" y="727" width="1" height="13" fill="#c0c0c0" />
<rect x="541" y="728" width="1" height="12" fill="#c0c0c0" />
<rect x="549" y="728" width="1" height="12" fill="#c0c0c0" />
<rect x="557" y="728" width="1" height="12" fill="#c0c0c0" />
<rect x="565" y="726" width="1" height="14" fill="#c0c0c0" />
<rect x="573" y="723" width="1" height="17" fill="#c0c0c0" />
<rect x="581" y="724" width="1" height="16" fill="#c0c0c0" />
<rect x="589" y="722" width="1" height="18" fill="#c0c0c0" />
<rect x="597" y="721" width="1" height="19" fill="#c0c0c0" />
<rect x="605" y="720" width="1" height="20" fill="#c0c0c0" />
<rect x="613" y="719" width="1" height="21" fill="#c0c0c0" />
<rect x="621" y="721" width="1" height="19" fill="#c0c0c0" />
<rect x="629" y="726" width="1" height="14" fill="#c0c0c0" />
<rect x="637" y="730" width="1" height="10" fill="#c0c0c0" />
<rect x="645" y="734" width="1" height="6" fill="#c0c0c0" />
<rect x="653" y="735" width="1" height="5" fill="#c0c0c0" />
<rect x="661" y="736" width="1" height="4" fill="#c0c0c0" />
<rect x="669" y="737" width="1" height="3" fill="#c0c0c0" />
<rect x="677" y="737" width="1" height="3" fill="#c0c0c0" />
<rect x="685" y="738" width="1" height="2" fill="#c0c0c0" />
<rect x="693" y="738" width="1" height="2" fill="#c0c0c0" />
<rect x="701" y="739" width="1" height="1" fill="#c0c0c0" />
<rect x="709" y="738" width="1" height="2" fill="#c0c0c0" />
<rect x="717" y="738" width="1" height="2" fill="#c0c0c0" />
<rect x="725" y="737" width="1" height="3" fill="#c0c0c0" />
<rect x="733" y="738" width="1" height="2" fill="#c0c0c0" />
<rect x="741" y="738" width="1" height="2" fill="#c0c0c0" />
<rect x="749" y="737" width="1" height="3" fill="#c0c0c0" />
<rect x="757" y="735" width="1" height="5" fill="#c0c0c0" />
<rect x="765" y="732" width="1" height="8" fill="#c0c0c0" />
<rect x="773" y="730" width="1" height="10" fill="#c0c0c0" />
<rect x="781" y="727" width="1" height="13" fill="#c0c0c0" />
<rect x="789" y="725" width="1" height="15" fill="#c0c0c0" />
<rect x="797" y="725" width="1" height="15" fill="#c0c0c0" />
<rect x="805" y="725" width="1" height="15" fill="#c0c0c0" />
<rect x="813" y="726" width="1" height="14" fill="#c0c0c0" />
<rect x="821" y="727" width="1" height="13" fill="#c0c0c0" />
<rect x="829" y="731" width="1" height="9" fill="#c0c0c0" />
<rect x="837" y="734" width="1" height="6" fill="#c0c0c0" />
<rect x="845" y="739" width="1" height="1" fill="#c0c0c0" />
<rect x="853" y="739" width="1" height="1" fill="#c0c0c0" />
<rect x="861" y="739" width="1" height="1" fill="#c0c0c0" />
<rect x="869" y="739" width="1" height="1" fill="#c0c0c0" />
<rect x="877" y="739" width="1" height="1" fill="#c0c0c0" />
<rect x="885" y="739" width="1" height="1" fill="#c0c0c0" />
<rect x="893" y="740" width="1" height="2" fill="#c0c0c0" />
<rect x="901" y="740" width="1" height="2" fill="#c0c0c0" />
<rect x="909" y="740" width="1" height="2" fill="#c0c0c0" />
<rect x="917" y="740" width="1" height="6" fill="#c0c0c0" />
<rect x="925" y="740" width="1" height="10" fill="#c0c0c0" />
<rect x="933" y="740" width="1" height="12" fill="#c0c0c0" />
<rect x="941" y="740" width="1" height="15" fill="#c0c0c0" />
<rect x="949" y="740" width="1" height="16" fill="#c0c0c0" />
<rect x="957" y="740" width="1" height="15" fill="#c0c0c0" />
<rect x="965" y="740" width="1" height="8" fill="#c0c0c0" />
<rect x="973" y="740" width="1" height="5" fill="#c0c0c0" />
<rect x="981" y="740" width="1" height="2" fill="#c0c0c0" />
<rect x="989" y="740" width="1" height="1" fill="#c0c0c0" />
<rect x="997" y="737" width="1" height="3" fill="#c0c0c0" />
<rect x="1005" y="736" width="1" height="4" fill="#c0c0c0" />
<rect x="1013" y="736" width="1" height="4" fill="#c0c0c0" />
<rect x="1021" y="736" width="1" height="4" fill="#c0c0c0" />
<rect x="1029" y="737" width="1" height="3" fill="#c0c0c0" />
<rect x="1037" y="738" width="1" height="2" fill="#c0c0c0" />
<rect x="1045" y="738" width="1" height="2" fill="#c0c0c0" />
<rect x="1053" y="739" width="1" height="1" fill="#c0c0c0" />
<rect x="1061" y="740" width="1" height="3" fill="#c0c0c0" />
<rect x="1069" y="740" width="1" height="6" fill="#c0c0c0" />
<rect x="1077" y="740" width="1" height="6" fill="#c0c0c0" />
<rect x="1085" y="740" width="1" height="9" fill="#c0c0c0" />
<rect x="1093" y="740" width="1" height="10" fill="#c0c0c0" />
<rect x="1101" y="740" width="1" height="11" fill="#c0c0c0" />
<rect x="1109" y="740" width="1" height="13" fill="#c0c0c0" />
<rect x="1117" y="740" width="1" height="14" fill="#c0c0c0" />
<rect x="1125" y="740" width="1" height="12" fill="#c0c0c0" />
<rect x="1133" y="740" width="1" height="11" fill="#c0c0c0" />
<rect x="1141" y="740" width="1" height="9" fill="#c0c0c0" />
<rect x="1149" y="740" width="1" height="6" fill="#c0c0c0" />
<rect x="1157" y="740" width="1" height="1" fill="#c0c0c0" />
<rect x="1165" y="737" width="1" height="3" fill="#c0c0c0" />
<rect x="1173" y="733" width="1" height="7" fill="#c0c0c0" />
<rect x="1181" y="727" width="1" height="13" fill="#c0c0c0" />
<rect x="1189" y="720" width="1" height="20" fill="#c0c0c0" />
<rect x="1197" y="713" width="1" height="27" fill="#c0c0c0" />
<rect x="1205" y="712" width="1" height="28" fill="#c0c0c0" />
<rect x="1213" y="711" width="1" height="29" fill="#c0c0c0" />
<rect x="1221" y="712" width="1" height="28" fill="#c0c0c0" />
<rect x="1229" y="712" width="1" height="28" fill="#c0c0c0" />
<rect x="1237" y="712" width="1" height="28" fill="#c0c0c0" />
<rect x="1245" y="715" width="1" height="25" fill="#c0c0c0" />
<rect x="1253" y="718" width="1" height="22" fill="#c0c0c0" />
<rect x="1261" y="724" width="1" height="16" fill="#c0c0c0" />
<rect x="1269" y="727" width="1" height="13" fill="#c0c0c0" />
<rect x="1277" y="732" width="1" height="8" fill="#c0c0c0" />
<rect x="1285" y="735" width="1" height="5" fill="#c0c0c0" />
<rect x="1293" y="739" width="1" height="1" fill="#c0c0c0" />
<rect x="1301" y="739" width="1" height="1" fill="#c0c0c0" />
<rect x="1309" y="739" width="1" height="1" fill="#c0c0c0" />
<rect x="1317" y="739" width="1" height="1" fill="#c0c0c0" />
</g>
<polyline points="2.2,604.2 8.8,596.5 17.7,589.9 26.5,588.1 35.4,589.9 44.2,593.6 55.3,595.4 66.4,593.6 84.0,591.0 97.3,587.7 110.6,584.8 119.5,581.0 128.3,579.5 137.2,580.6 146.0,583.2 159.3,585.4 172.6,589.9 188.0,598.7 203.5,606.5 221.2,615.3 236.7,622.6 254.4,626.4 270.0,630.1 285.4,635.9 296.5,637.4 309.7,645.2 323.0,658.5 336.3,674.0 349.6,687.2 353.0,690.2 365.0,699.0 377.6,706.5 390.2,711.5 402.8,716.5 415.3,720.3 427.9,726.6 437.9,731.6 450.5,736.6 460.6,740.9 470.6,743.4 480.7,744.7 493.2,744.2 505.8,742.4 520.9,739.9 533.4,735.4 546.0,732.9 558.5,730.4 571.0,728.6 581.0,726.1 596.2,724.6 611.3,722.8 628.9,721.6 641.5,722.8 654.0,724.0 664.0,727.1 676.6,728.3 686.7,732.4 701.8,735.4 721.9,736.1 742.0,737.4 757.0,736.6 772.6,735.4 785.0,733.6 797.7,731.1 810.3,728.3 822.8,727.1 831.6,726.1 845.4,727.8 860.5,731.6 875.6,734.6 890.7,737.9 905.7,740.9 920.8,742.4 933.4,744.7 945.9,747.4 961.0,749.7 976.0,750.5 991.2,749.2 1001.2,748.0 1013.8,744.2 1023.8,740.4 1036.4,738.4 1049.0,736.6 1061.5,736.6 1074.0,738.6 1086.6,741.7 1099.2,742.9 1111.8,746.7 1121.8,749.2 1136.9,751.0 1152.0,751.0 1164.5,748.4 1175.3,745.2 1190.6,738.5 1206.0,730.0 1221.2,722.3 1236.5,716.2 1251.9,713.1 1265.6,714.0 1276.3,716.8 1291.7,723.2 1303.9,726.9 1316.0,731.5" fill="none" stroke="#ff0000" stroke-width="1" stroke-dasharray="3 3" shape-rendering="crispEdges"/>
<text transform="translate(1.3,578) rotate(0.05) scale(1.0000,1)" font-size="10.2" fill="#000" text-anchor="start" font-weight="normal" textLength="128" lengthAdjust="spacingAndGlyphs" >MACD(12,26,9) 0.0099 0.0607</text>
<text transform="translate(1629,576.5) rotate(0.05) scale(1.0000,1)" font-size="10.2" fill="#000" text-anchor="start" font-weight="normal" textLength="29" lengthAdjust="spacingAndGlyphs" >1.5033</text>
<text transform="translate(1629,743.5) rotate(0.05) scale(1.0000,1)" font-size="10.2" fill="#000" text-anchor="start" font-weight="normal" textLength="19" lengthAdjust="spacingAndGlyphs" >0.00</text>
<text transform="translate(1629,763.5) rotate(0.05) scale(1.0000,1)" font-size="10.2" fill="#000" text-anchor="start" font-weight="normal" textLength="32" lengthAdjust="spacingAndGlyphs" >-0.2336</text>
<rect x="1626" y="567" width="1" height="1" fill="#000" />
<rect x="1626" y="739" width="2" height="1" fill="#000" />
<rect x="1626" y="765" width="1" height="1" fill="#000" />
<line x1="0" y1="801.5" x2="1625" y2="801.5" stroke="#c0c0c0" stroke-width="1" stroke-dasharray="3 3" stroke-dashoffset="2" shape-rendering="crispEdges"/>
<line x1="0" y1="848.5" x2="1625" y2="848.5" stroke="#c0c0c0" stroke-width="1" stroke-dasharray="3 3" stroke-dashoffset="2" shape-rendering="crispEdges"/>
<line x1="0" y1="904.5" x2="1625" y2="904.5" stroke="#c0c0c0" stroke-width="1" stroke-dasharray="3 3" stroke-dashoffset="2" shape-rendering="crispEdges"/>
<polyline points="0.0,824.8 5.5,820.8 13.3,826.0 21.4,822.3 30.1,822.3 37.7,819.0 45.2,822.3 53.3,809.0 61.0,807.2 69.1,812.0 77.4,815.2 85.4,825.3 93.4,820.8 101.5,812.7 109.5,817.0 117.6,819.0 125.6,818.3 133.6,824.5 141.9,819.0 150.0,823.3 157.8,819.8 165.8,822.0 173.8,826.0 181.9,822.3 189.9,821.0 198.0,822.3 205.5,817.3 213.5,828.3 222.0,824.8 229.8,820.8 237.9,815.2 246.2,819.0 253.7,822.3 262.0,822.3 269.5,820.3 277.6,832.0 285.1,833.3 293.2,831.0 301.4,844.9 309.5,847.9 317.5,857.9 325.5,854.2 333.6,850.4 341.6,843.6 349.6,837.3 357.9,837.3 365.5,839.1 373.7,841.1 381.3,842.9 389.3,861.0 397.6,853.4 405.2,855.4 413.5,853.1 421.3,854.8 429.3,859.6 437.6,851.0 445.2,854.6 453.2,852.3 461.2,854.6 469.3,846.5 477.3,851.0 485.4,837.0 493.4,839.5 501.7,839.5 509.7,842.7 517.5,846.0 525.5,842.0 533.6,832.2 541.6,846.5 549.7,843.3 557.4,845.3 565.7,837.2 573.3,836.0 581.6,843.3 589.6,837.2 597.1,838.2 605.9,836.0 613.5,834.5 621.5,844.8 629.3,854.6 637.3,854.6 645.4,857.3 653.4,849.5 661.2,849.5 669.2,850.8 677.5,847.3 685.6,848.3 693.3,849.5 701.4,849.5 709.4,844.0 717.5,846.5 725.5,842.2 733.5,854.6 741.6,845.8 749.6,842.2 757.6,839.5 765.7,832.2 773.2,834.5 781.5,825.2 789.3,832.0 797.3,837.7 805.6,841.5 813.2,839.5 821.2,843.8 829.5,857.2 837.6,858.3 845.6,872.1 853.9,852.0 862.0,847.3 870.2,848.5 877.8,850.3 885.8,852.3 893.6,856.0 901.1,852.0 909.2,852.0 917.5,866.1 925.0,869.6 933.5,861.6 941.8,868.4 949.4,866.1 957.4,856.6 965.4,834.5 973.7,844.0 981.5,844.0 989.6,839.5 997.3,838.2 1005.4,844.0 1013.4,847.3 1021.7,847.3 1029.7,849.5 1037.8,848.3 1045.6,843.5 1053.1,858.3 1061.6,866.1 1069.4,862.3 1077.5,854.6 1085.8,862.3 1093.3,859.1 1101.8,863.6 1109.4,860.3 1117.7,862.3 1125.2,852.3 1133.5,849.0 1141.5,853.3 1149.6,844.8 1157.9,832.7 1165.4,829.4 1173.4,829.4 1181.7,822.7 1189.8,815.1 1197.5,812.1 1205.6,831.4 1216.9,831.4 1221.9,832.7 1229.0,835.7 1236.8,831.0 1245.3,835.8 1253.3,850.1 1261.7,856.2 1269.0,852.2 1277.6,859.4 1284.2,858.0 1293.4,863.3 1301.4,849.6 1309.3,846.4 1316.7,846.4" fill="none" stroke="#1e90ff" stroke-width="1" shape-rendering="crispEdges"/>
<text transform="translate(1.5,781) rotate(0.05) scale(1.0000,1)" font-size="10.2" fill="#000" text-anchor="start" font-weight="normal" textLength="68" lengthAdjust="spacingAndGlyphs" >RSI(14) 51.8857</text>
<text transform="translate(1628.6,779.0) rotate(0.05) scale(0.9412,1)" font-size="10.2" fill="#000" text-anchor="start" font-weight="normal" >100</text>
<text transform="translate(1628.6,805.0) rotate(0.05) scale(0.9412,1)" font-size="10.2" fill="#000" text-anchor="start" font-weight="normal" >80</text>
<text transform="translate(1628.6,852.0) rotate(0.05) scale(0.9412,1)" font-size="10.2" fill="#000" text-anchor="start" font-weight="normal" >50</text>
<text transform="translate(1628.6,908.0) rotate(0.05) scale(0.9412,1)" font-size="10.2" fill="#000" text-anchor="start" font-weight="normal" >15</text>
<text transform="translate(1628.6,925.0) rotate(0.05) scale(0.9412,1)" font-size="10.2" fill="#000" text-anchor="start" font-weight="normal" >0</text>
<rect x="1626" y="927" width="1" height="1" fill="#000" />
<text transform="translate(-4,941) rotate(0.05) scale(0.9412,1)" font-size="10.2" fill="#000" text-anchor="start" font-weight="normal" >14 Oct 2019</text>
<rect x="61" y="929" width="1" height="3" fill="#000" />
<text transform="translate(60,941) rotate(0.05) scale(0.9412,1)" font-size="10.2" fill="#000" text-anchor="start" font-weight="normal" >15 Oct 16:00</text>
<rect x="125" y="929" width="1" height="3" fill="#000" />
<text transform="translate(124,941) rotate(0.05) scale(0.9412,1)" font-size="10.2" fill="#000" text-anchor="start" font-weight="normal" >17 Oct 00:00</text>
<rect x="189" y="929" width="1" height="3" fill="#000" />
<text transform="translate(188,941) rotate(0.05) scale(0.9412,1)" font-size="10.2" fill="#000" text-anchor="start" font-weight="normal" >18 Oct 08:00</text>
<rect x="253" y="929" width="1" height="3" fill="#000" />
<text transform="translate(252,941) rotate(0.05) scale(0.9412,1)" font-size="10.2" fill="#000" text-anchor="start" font-weight="normal" >21 Oct 16:00</text>
<rect x="317" y="929" width="1" height="3" fill="#000" />
<text transform="translate(316,941) rotate(0.05) scale(0.9412,1)" font-size="10.2" fill="#000" text-anchor="start" font-weight="normal" >23 Oct 00:00</text>
<rect x="381" y="929" width="1" height="3" fill="#000" />
<text transform="translate(380,941) rotate(0.05) scale(0.9412,1)" font-size="10.2" fill="#000" text-anchor="start" font-weight="normal" >24 Oct 08:00</text>
<rect x="445" y="929" width="1" height="3" fill="#000" />
<text transform="translate(444,941) rotate(0.05) scale(0.9412,1)" font-size="10.2" fill="#000" text-anchor="start" font-weight="normal" >25 Oct 16:00</text>
<rect x="509" y="929" width="1" height="3" fill="#000" />
<text transform="translate(508,941) rotate(0.05) scale(0.9412,1)" font-size="10.2" fill="#000" text-anchor="start" font-weight="normal" >29 Oct 00:00</text>
<rect x="573" y="929" width="1" height="3" fill="#000" />
<text transform="translate(572,941) rotate(0.05) scale(0.9412,1)" font-size="10.2" fill="#000" text-anchor="start" font-weight="normal" >30 Oct 08:00</text>
<rect x="637" y="929" width="1" height="3" fill="#000" />
<text transform="translate(636,941) rotate(0.05) scale(0.9412,1)" font-size="10.2" fill="#000" text-anchor="start" font-weight="normal" >31 Oct 16:00</text>
<rect x="701" y="929" width="1" height="3" fill="#000" />
<text transform="translate(700,941) rotate(0.05) scale(0.9412,1)" font-size="10.2" fill="#000" text-anchor="start" font-weight="normal" >4 Nov 00:00</text>
<rect x="765" y="929" width="1" height="3" fill="#000" />
<text transform="translate(764,941) rotate(0.05) scale(0.9412,1)" font-size="10.2" fill="#000" text-anchor="start" font-weight="normal" >5 Nov 08:00</text>
<rect x="829" y="929" width="1" height="3" fill="#000" />
<text transform="translate(828,941) rotate(0.05) scale(0.9412,1)" font-size="10.2" fill="#000" text-anchor="start" font-weight="normal" >6 Nov 16:00</text>
<rect x="893" y="929" width="1" height="3" fill="#000" />
<text transform="translate(892,941) rotate(0.05) scale(0.9412,1)" font-size="10.2" fill="#000" text-anchor="start" font-weight="normal" >8 Nov 00:00</text>
<rect x="957" y="929" width="1" height="3" fill="#000" />
<text transform="translate(956,941) rotate(0.05) scale(0.9412,1)" font-size="10.2" fill="#000" text-anchor="start" font-weight="normal" >11 Nov 08:00</text>
<rect x="1021" y="929" width="1" height="3" fill="#000" />
<text transform="translate(1020,941) rotate(0.05) scale(0.9412,1)" font-size="10.2" fill="#000" text-anchor="start" font-weight="normal" >12 Nov 16:00</text>
<rect x="1085" y="929" width="1" height="3" fill="#000" />
<text transform="translate(1084,941) rotate(0.05) scale(0.9412,1)" font-size="10.2" fill="#000" text-anchor="start" font-weight="normal" >14 Nov 00:00</text>
<rect x="1149" y="929" width="1" height="3" fill="#000" />
<text transform="translate(1148,941) rotate(0.05) scale(0.9412,1)" font-size="10.2" fill="#000" text-anchor="start" font-weight="normal" >15 Nov 08:00</text>
<rect x="1213" y="929" width="1" height="3" fill="#000" />
<text transform="translate(1212,941) rotate(0.05) scale(0.9412,1)" font-size="10.2" fill="#000" text-anchor="start" font-weight="normal" >18 Nov 16:00</text>
<rect x="1277" y="929" width="1" height="3" fill="#000" />
<text transform="translate(1276,941) rotate(0.05) scale(0.9412,1)" font-size="10.2" fill="#000" text-anchor="start" font-weight="normal" >20 Nov 00:00</text>
<defs>
<linearGradient id="gbtn" x1="0" y1="0" x2="0" y2="1"><stop offset="0" stop-color="#fb5252"/><stop offset="1" stop-color="#e23535"/></linearGradient>
<linearGradient id="gbig" x1="0" y1="0" x2="0" y2="1"><stop offset="0" stop-color="#dc3030"/><stop offset="0.5" stop-color="#c91b1b"/><stop offset="1" stop-color="#ad0000"/></linearGradient>
</defs>
<rect x="0" y="48" width="221" height="66" fill="#fff"/>
<rect x="0" y="72" width="109" height="40" fill="#b40000"/>
<rect x="1" y="73" width="107" height="38" fill="url(#gbig)"/>
<rect x="0" y="48" width="52" height="25" fill="#b40000"/>
<rect x="1" y="49" width="50" height="24" fill="url(#gbtn)"/>
<rect x="4" y="71" width="44" height="1" fill="#a80000"/>
<rect x="4" y="72" width="44" height="1" fill="#f06a6a"/>
<rect x="111" y="72" width="108" height="40" fill="#b40000"/>
<rect x="112" y="73" width="106" height="38" fill="url(#gbig)"/>
<rect x="167" y="48" width="52" height="25" fill="#b40000"/>
<rect x="168" y="49" width="50" height="24" fill="url(#gbtn)"/>
<rect x="171" y="71" width="44" height="1" fill="#a80000"/>
<rect x="171" y="72" width="44" height="1" fill="#f06a6a"/>
<text x="12.2" y="64" font-size="12" textLength="25.6" fill="#fff" lengthAdjust="spacingAndGlyphs" fill-opacity="0.95">SELL</text>
<text x="180.8" y="64" font-size="12" textLength="22.5" fill="#fff" lengthAdjust="spacingAndGlyphs" fill-opacity="0.95">BUY</text>
<text x="23.5" y="102.6" font-size="11.6" font-weight="bold" textLength="20.5" fill="#fff" lengthAdjust="spacingAndGlyphs">140</text>
<text x="133.8" y="102.6" font-size="11.6" font-weight="bold" textLength="20.5" fill="#fff" lengthAdjust="spacingAndGlyphs">140</text>
<text x="47.6" y="103" font-size="33.2" textLength="35" fill="#fff" lengthAdjust="spacingAndGlyphs">32</text>
<text x="159" y="103" font-size="33.2" textLength="35" fill="#fff" lengthAdjust="spacingAndGlyphs">36</text>
<text x="87.2" y="86.8" font-size="11.6" font-weight="bold" textLength="7" fill="#fff" lengthAdjust="spacingAndGlyphs">9</text>
<text x="197.8" y="86.8" font-size="11.6" font-weight="bold" textLength="7" fill="#fff" lengthAdjust="spacingAndGlyphs">9</text>
<rect x="54.5" y="48.5" width="110" height="21" fill="#fff" stroke="#a9abb3" stroke-width="1"/>
<rect x="55" y="49" width="20" height="20" fill="#ebebeb"/>
<rect x="144" y="49" width="20" height="20" fill="#ebebeb"/>
<rect x="75" y="49" width="1" height="20" fill="#a9abb3"/>
<rect x="143" y="49" width="1" height="20" fill="#a9abb3"/>
<path d="M62 57 L67.4 57 L64.7 60 Z" fill="#000"/>
<path d="M151 60 L156.4 60 L153.7 57 Z" fill="#000"/>
<text x="139.8" y="62.6" font-size="11.8" text-anchor="end" fill="#000">1.00</text><defs>
<linearGradient id="gplus" x1="0" y1="0" x2="1" y2="1"><stop offset="0" stop-color="#5cf05c"/><stop offset="1" stop-color="#0aa00a"/></linearGradient>
<linearGradient id="ggold" x1="0" y1="0" x2="1" y2="1"><stop offset="0" stop-color="#f6dc50"/><stop offset="1" stop-color="#c08a10"/></linearGradient>
<linearGradient id="gblue" x1="0" y1="0" x2="0" y2="1"><stop offset="0" stop-color="#58b0f8"/><stop offset="1" stop-color="#1870d8"/></linearGradient>
<linearGradient id="ggrn" x1="0" y1="0" x2="0" y2="1"><stop offset="0" stop-color="#48b028"/><stop offset="1" stop-color="#2a8a18"/></linearGradient>
<linearGradient id="gblu2" x1="0" y1="0" x2="0" y2="1"><stop offset="0" stop-color="#1848c8"/><stop offset="1" stop-color="#3870e0"/></linearGradient>
<pattern id="chk" width="2" height="2" patternUnits="userSpaceOnUse"><rect width="2" height="2" fill="#fff"/><rect width="1" height="1" fill="#f0f0f0"/><rect x="1" y="1" width="1" height="1" fill="#f0f0f0"/></pattern>
</defs>
<path d="M0 4.5 H5 L7.5 7 V13 H0 Z" fill="#fff" stroke="#999" stroke-width="0.8"/>
<path d="M0 8.5 H5 M0 10.5 H3" stroke="#aaa" stroke-width="1"/>
<path d="M4.2 10.2 h3.6 v4.0 h4.0 v3.6 h-4.0 v4.0 h-3.6 v-4.0 h-4.0 v-3.6 h4.0 Z" fill="url(#gplus)" stroke="#0a8c0a" stroke-width="0.8"/>
<text x="14.6" y="15" font-size="12.2" fill="#000" textLength="36.6" lengthAdjust="spacingAndGlyphs" style="font-family:'Liberation Sans','Noto Sans CJK SC',sans-serif;">新订单</text>
<path d="M69 5.4 L78.7 13 L71.2 19.8 L63 13.7 Z" fill="url(#ggold)" stroke="#a87410" stroke-width="0.9"/>
<path d="M63 13.9 L71.2 19.9 L78.7 13.2" stroke="#9a6a12" stroke-width="1.5" fill="none" stroke-linejoin="round"/>
<path d="M64.2 13.6 L71.2 18.4 L77.4 13" stroke="#f8e48a" stroke-width="0.8" fill="none"/>
<path d="M93.5 5 L100 4 L104.5 5.5 V13.5 H93.5 Z" fill="url(#gblue)" stroke="#1c64c8" stroke-width="0.6"/>
<path d="M97 5 V13" stroke="#b8dcff" stroke-width="0.8"/><rect x="98.5" y="8" width="4" height="1" fill="#d8ecff"/>
<path d="M94 19.5 a3 3 0 0 1 -0.5 -5.8 a3.4 3.4 0 0 1 6 -1.2 a3 3 0 0 1 4.6 1.6 a2.8 2.8 0 0 1 0 5.4 Z" fill="#eef3fa" stroke="#5078c0" stroke-width="0.9"/>
<circle cx="127" cy="11.7" r="7.2" fill="none" stroke="#7d9be0" stroke-width="1"/>
<circle cx="127" cy="11.7" r="4.6" fill="none" stroke="#5b7fe0" stroke-width="1"/>
<path d="M127 11.7 L127 4.5 A7.2 7.2 0 0 1 127 18.9 Z" fill="#58b058" fill-opacity="0.75"/>
<circle cx="127" cy="11.5" r="1.8" fill="#2858d0"/>
<rect x="126.6" y="12" width="1.3" height="8" fill="#22a022"/>
<path d="M147.5 11 L160.5 11 L156 19.5 L152.5 19.5 Z" fill="#f4d648" stroke="#c8a020" stroke-width="0.7"/>
<ellipse cx="154" cy="9.8" rx="7.8" ry="2.6" fill="#4ea6dc" stroke="#2c7cb8" stroke-width="0.6"/>
<path d="M150 9 a4 4.4 0 0 1 8 0 Z" fill="#6cc0ec" stroke="#2c7cb8" stroke-width="0.6"/>
<circle cx="158.5" cy="15.7" r="4" fill="#e02010"/><rect x="157" y="14.2" width="3" height="3" fill="#fff"/>
<text x="167.4" y="15.3" font-size="11.9" fill="#000" textLength="46.8" lengthAdjust="spacingAndGlyphs" style="font-family:'Liberation Sans','Noto Sans CJK SC',sans-serif;">自动交易</text>
<rect x="222" y="1" width="1" height="21" fill="#a0a0a0"/>
<rect x="226" y="2" width="3" height="1" fill="#a0a0a0"/>
<rect x="226" y="4" width="3" height="1" fill="#a0a0a0"/>
<rect x="226" y="6" width="3" height="1" fill="#a0a0a0"/>
<rect x="226" y="8" width="3" height="1" fill="#a0a0a0"/>
<rect x="226" y="10" width="3" height="1" fill="#a0a0a0"/>
<rect x="226" y="12" width="3" height="1" fill="#a0a0a0"/>
<rect x="226" y="14" width="3" height="1" fill="#a0a0a0"/>
<rect x="226" y="16" width="3" height="1" fill="#a0a0a0"/>
<rect x="226" y="18" width="3" height="1" fill="#a0a0a0"/>
<rect x="226" y="20" width="3" height="1" fill="#a0a0a0"/>
<path d="M240.5 7 V20 M237.5 17.5 H250.5" stroke="#555" stroke-width="1" fill="none"/>
<path d="M238.5 8.5 L240.5 6 L242.5 8.5 Z M249 15.5 L251.5 17.5 L249 19.5 Z" fill="#555"/>
<path d="M246.5 7 V16 M244 14.5 H246.5 M246.5 8.5 H249" stroke="#18a018" stroke-width="1.2" fill="none"/>
<rect x="260" y="0" width="25" height="22" fill="url(#chk)"/>
<rect x="260" y="0" width="25" height="1" fill="#a0a0a0"/>
<rect x="260" y="0" width="1" height="22" fill="#a0a0a0"/>
<rect x="284" y="1" width="1" height="21" fill="#fff"/>
<rect x="260" y="22" width="25" height="1" fill="#fff"/>
<path d="M268.5 7 V20 M265.5 17.5 H278.5" stroke="#555" stroke-width="1" fill="none"/>
<path d="M266.5 8.5 L268.5 6 L270.5 8.5 Z M277 15.5 L279.5 17.5 L277 19.5 Z" fill="#555"/>
<rect x="274" y="4" width="1" height="12" fill="#0a800a"/>
<rect x="272.5" y="6.5" width="4" height="7" fill="#30dc30" stroke="#0a800a" stroke-width="1"/>
<path d="M296.5 7 V20 M293.5 17.5 H306.5" stroke="#555" stroke-width="1" fill="none"/>
<path d="M294.5 8.5 L296.5 6 L298.5 8.5 Z M305 15.5 L307.5 17.5 L305 19.5 Z" fill="#555"/>
<path d="M295 14.7 Q298.5 12 301 9.4 Q304 11 306.7 13" stroke="#2a9a2a" stroke-width="1.2" fill="none"/>
<rect x="317" y="1" width="1" height="21" fill="#a0a0a0"/>
<path d="M335.6 13.8 L340.6 18.8" stroke="#9a7a18" stroke-width="3.4" stroke-linecap="round"/>
<path d="M335.8 14 L340.4 18.6" stroke="#ecd040" stroke-width="2" stroke-linecap="round"/>
<circle cx="332" cy="10" r="5.6" fill="#d9ecf9" stroke="#3784d4" stroke-width="1.2"/>
<rect x="328.5" y="9.2" width="7" height="1.7" fill="#4590b8"/>
<rect x="331.15" y="6.5" width="1.7" height="7" fill="#4590b8"/>
<path d="M363.6 13.8 L368.6 18.8" stroke="#9a7a18" stroke-width="3.4" stroke-linecap="round"/>
<path d="M363.8 14 L368.4 18.6" stroke="#ecd040" stroke-width="2" stroke-linecap="round"/>
<circle cx="360" cy="10" r="5.6" fill="#d9ecf9" stroke="#3784d4" stroke-width="1.2"/>
<rect x="356.5" y="9.2" width="7" height="1.7" fill="#4590b8"/>
<rect x="382" y="4" width="8" height="8" fill="url(#ggrn)"/>
<rect x="383.5" y="7.2" width="5" height="3.8" fill="#f4f6ff"/>
<rect x="384.5" y="8.2" width="3" height="0.9" fill="#7cc868"/>
<rect x="383.2" y="5.2" width="1" height="1" fill="#e8f0ff"/>
<rect x="390" y="4" width="8" height="8" fill="url(#gblu2)"/>
<rect x="391.5" y="7.2" width="5" height="3.8" fill="#f4f6ff"/>
<rect x="392.5" y="8.2" width="3" height="0.9" fill="#88a8f0"/>
<rect x="391.2" y="5.2" width="1" height="1" fill="#e8f0ff"/>
<rect x="382" y="12" width="8" height="8" fill="url(#gblu2)"/>
<rect x="383.5" y="15.2" width="5" height="3.8" fill="#f4f6ff"/>
<rect x="384.5" y="16.2" width="3" height="0.9" fill="#88a8f0"/>
<rect x="383.2" y="13.2" width="1" height="1" fill="#e8f0ff"/>
<rect x="390" y="12" width="8" height="8" fill="url(#ggrn)"/>
<rect x="391.5" y="15.2" width="5" height="3.8" fill="#f4f6ff"/>
<rect x="392.5" y="16.2" width="3" height="0.9" fill="#7cc868"/>
<rect x="391.2" y="13.2" width="1" height="1" fill="#e8f0ff"/>
<rect x="407" y="1" width="1" height="21" fill="#a0a0a0"/>
<rect x="412" y="0" width="25" height="22" fill="url(#chk)"/>
<rect x="412" y="0" width="25" height="1" fill="#a0a0a0"/>
<rect x="412" y="0" width="1" height="22" fill="#a0a0a0"/>
<rect x="436" y="1" width="1" height="21" fill="#fff"/>
<rect x="412" y="22" width="25" height="1" fill="#fff"/>
<path d="M420.5 7 V20 M417.5 17.5 H430.5" stroke="#555" stroke-width="1" fill="none"/>
<path d="M418.5 8.5 L420.5 6 L422.5 8.5 Z M429 15.5 L431.5 17.5 L429 19.5 Z" fill="#555"/>
<path d="M425.3 8 L429.2 11.3 L425.3 14.6 Z" fill="#7ee07e" stroke="#18a018" stroke-width="1"/>
<rect x="440" y="0" width="25" height="22" fill="url(#chk)"/>
<rect x="440" y="0" width="25" height="1" fill="#a0a0a0"/>
<rect x="440" y="0" width="1" height="22" fill="#a0a0a0"/>
<rect x="464" y="1" width="1" height="21" fill="#fff"/>
<rect x="440" y="22" width="25" height="1" fill="#fff"/>
<path d="M448.5 7 V20 M445.5 17.5 H458.5" stroke="#555" stroke-width="1" fill="none"/>
<path d="M446.5 8.5 L448.5 6 L450.5 8.5 Z M457 15.5 L459.5 17.5 L457 19.5 Z" fill="#555"/>
<rect x="454" y="6" width="1.2" height="10" fill="#2070b0"/>
<path d="M455.4 11.6 L458.6 9.2 L458.2 11 L460.4 11 L460.4 12.2 L458.2 12.2 L458.6 14 Z" fill="#e04808"/>
<rect x="469" y="1" width="1" height="21" fill="#a0a0a0"/>
<path d="M479.5 4.8 H487.5 L490.6 7.8 V17.6 H479.5 Z" fill="#fdfdfd" stroke="#8c8c8c" stroke-width="0.8"/>
<path d="M487.5 4.8 V7.8 H490.6" fill="none" stroke="#8c8c8c" stroke-width="0.7"/>
<path d="M484 8 q-1.6 0 -1.6 1.6 v5 M481.4 11.4 h2.6" stroke="#555" stroke-width="0.8" fill="none"/>
<path d="M487.2 10.2 h3.6 v4.0 h4.0 v3.6 h-4.0 v4.0 h-3.6 v-4.0 h-4.0 v-3.6 h4.0 Z" fill="url(#gplus)" stroke="#0a8c0a" stroke-width="0.8"/>
<path d="M500.8 11 h5.4 l-2.7 3 Z" fill="#000"/>
<circle cx="525" cy="12" r="6.6" fill="#fff" stroke="url(#gblue)" stroke-width="2.8"/>
<circle cx="525" cy="12" r="7.9" fill="none" stroke="#0c58b8" stroke-width="0.5"/>
<path d="M524.6 8 V12.4 H527.6" stroke="#111" stroke-width="1.1" fill="none"/>
<rect x="523.6" y="14.2" width="2.6" height="0.8" fill="#7ab4f4"/>
<path d="M539.8 11 h5.4 l-2.7 3 Z" fill="#000"/>
<rect x="556.5" y="5.5" width="15" height="13" fill="#fff" stroke="#3a74c4" stroke-width="1.2"/>
<rect x="557" y="6" width="14" height="2" fill="#5c9ae4"/>
<rect x="557" y="13" width="14" height="1" fill="#3a74c4"/>
<path d="M558.5 11.5 L561 10.5 L563 9.6 L565.5 10.6 L567.5 10 L569.5 9.4" stroke="#a42010" stroke-width="1.1" fill="none"/>
<path d="M559 16.6 L561.5 15.8 L563.5 16.6 L566.5 14.6 L569.5 16.8" stroke="#189030" stroke-width="1.1" fill="none"/>
<path d="M578.7 11 h5.4 l-2.7 3 Z" fill="#000"/>
<rect x="590" y="0" width="1" height="24" fill="#a0a0a0"/><rect x="591" y="0" width="1" height="24" fill="#fff"/>
<rect x="594" y="2" width="3" height="1" fill="#a0a0a0"/>
<rect x="594" y="4" width="3" height="1" fill="#a0a0a0"/>
<rect x="594" y="6" width="3" height="1" fill="#a0a0a0"/>
<rect x="594" y="8" width="3" height="1" fill="#a0a0a0"/>
<rect x="594" y="10" width="3" height="1" fill="#a0a0a0"/>
<rect x="594" y="12" width="3" height="1" fill="#a0a0a0"/>
<rect x="594" y="14" width="3" height="1" fill="#a0a0a0"/>
<rect x="594" y="16" width="3" height="1" fill="#a0a0a0"/>
<rect x="594" y="18" width="3" height="1" fill="#a0a0a0"/>
<rect x="594" y="20" width="3" height="1" fill="#a0a0a0"/>
<rect x="600" y="0" width="25" height="22" fill="url(#chk)"/>
<rect x="600" y="0" width="25" height="1" fill="#a0a0a0"/>
<rect x="600" y="0" width="1" height="22" fill="#a0a0a0"/>
<rect x="624" y="1" width="1" height="21" fill="#fff"/>
<rect x="600" y="22" width="25" height="1" fill="#fff"/>
<path d="M608 5 L608 16 L610.7 13.6 L613 18.8 L614.6 18 L612.4 13 L615.8 12.6 Z" fill="#555"/>
<path d="M640.5 5 V11 M640.5 14 V20 M633 12.5 H639 M642 12.5 H648" stroke="#555" stroke-width="1"/><rect x="640" y="12" width="1" height="1" fill="#555"/>
<rect x="657" y="1" width="1" height="21" fill="#a0a0a0"/>
<rect x="674" y="6" width="1" height="13" fill="#555"/>
<rect x="697" y="12" width="12" height="1" fill="#555"/>
<path d="M724.8 18.8 L737.2 6.7" stroke="#555" stroke-width="1"/>
<path d="M751 13.4 L759 6 M756 18.8 L764.7 10.4 M753 16.5 L762.5 7.5" stroke="#555" stroke-width="1"/>
<path d="M754.5 10.5 L755.5 17.5 M757.5 8.5 L758.5 15 M760.5 6.5 L761.5 12.5 M762.5 4.5 L763.5 10.5" stroke="#555" stroke-width="0.9"/>
<text x="761.8" y="20.8" font-size="6.6" font-weight="bold" fill="#333">E</text>
<line x1="780" y1="5.5" x2="793" y2="5.5" stroke="#555" stroke-width="1" stroke-dasharray="1 1" shape-rendering="crispEdges"/>
<line x1="780" y1="8.5" x2="793" y2="8.5" stroke="#555" stroke-width="1" stroke-dasharray="1 1" shape-rendering="crispEdges"/>
<line x1="780" y1="12.5" x2="793" y2="12.5" stroke="#555" stroke-width="1" stroke-dasharray="1 1" shape-rendering="crispEdges"/>
<line x1="780" y1="16.5" x2="789" y2="16.5" stroke="#555" stroke-width="1" stroke-dasharray="1 1" shape-rendering="crispEdges"/>
<text x="789.6" y="20.8" font-size="6.6" font-weight="bold" fill="#333">F</text>
<text x="810.6" y="16.8" font-size="12" font-weight="bold" fill="#606060" textLength="8" lengthAdjust="spacingAndGlyphs">A</text>
<path d="M837 6.5 H849 M837 18.5 H849 M837.5 6 V19 M848.5 6 V19" fill="none" stroke="#555" stroke-width="1" stroke-dasharray="1 1" shape-rendering="crispEdges"/>
<rect x="836.5" y="5.5" width="2" height="1" fill="#555"/>
<path d="M839.5 9.8 H847 M843.2 9.8 V16.8" stroke="#555" stroke-width="1.5" fill="none"/>
<path d="M867.6 6 L871 9.4 L867.6 10.6 L864.3 9.4 Z" fill="#555"/>
<path d="M874.6 18.8 L871.3 15.4 L874.6 14.2 L878 15.4 Z" fill="#555"/>
<path d="M866.5 13.5 L868.5 15.5 L872.5 10.5" stroke="#555" stroke-width="1.2" fill="none"/>
<path d="M884.7 11 h5.4 l-2.7 3 Z" fill="#000"/>
<rect x="896" y="0" width="1" height="24" fill="#a0a0a0"/><rect x="897" y="0" width="1" height="24" fill="#fff"/>
<rect x="900" y="2" width="3" height="1" fill="#a0a0a0"/>
<rect x="900" y="4" width="3" height="1" fill="#a0a0a0"/>
<rect x="900" y="6" width="3" height="1" fill="#a0a0a0"/>
<rect x="900" y="8" width="3" height="1" fill="#a0a0a0"/>
<rect x="900" y="10" width="3" height="1" fill="#a0a0a0"/>
<rect x="900" y="12" width="3" height="1" fill="#a0a0a0"/>
<rect x="900" y="14" width="3" height="1" fill="#a0a0a0"/>
<rect x="900" y="16" width="3" height="1" fill="#a0a0a0"/>
<rect x="900" y="18" width="3" height="1" fill="#a0a0a0"/>
<rect x="900" y="20" width="3" height="1" fill="#a0a0a0"/>
<rect x="1046" y="0" width="25" height="22" fill="url(#chk)"/>
<rect x="1046" y="0" width="25" height="1" fill="#a0a0a0"/>
<rect x="1046" y="0" width="1" height="22" fill="#a0a0a0"/>
<rect x="1070" y="1" width="1" height="21" fill="#fff"/>
<rect x="1046" y="22" width="25" height="1" fill="#fff"/>
<text x="911.5" y="15.8" font-size="9.2" fill="#444" textLength="12.5" lengthAdjust="spacingAndGlyphs">M1</text>
<text x="939" y="15.8" font-size="9.2" fill="#444" textLength="13" lengthAdjust="spacingAndGlyphs">M5</text>
<text x="965.2" y="15.8" font-size="9.2" fill="#444" textLength="17.5" lengthAdjust="spacingAndGlyphs">M15</text>
<text x="993" y="15.8" font-size="9.2" fill="#444" textLength="18" lengthAdjust="spacingAndGlyphs">M30</text>
<text x="1024" y="15.8" font-size="9.2" fill="#444" textLength="11.5" lengthAdjust="spacingAndGlyphs">H1</text>
<text x="1051.3" y="15.8" font-size="9.2" fill="#444" textLength="12.3" lengthAdjust="spacingAndGlyphs">H4</text>
<text x="1080" y="15.8" font-size="9.2" fill="#444" textLength="12" lengthAdjust="spacingAndGlyphs">D1</text>
<text x="1107.5" y="15.8" font-size="9.2" fill="#444" textLength="14.5" lengthAdjust="spacingAndGlyphs">W1</text>
<text x="1134.8" y="15.8" font-size="9.2" fill="#444" textLength="14" lengthAdjust="spacingAndGlyphs">MN</text>
<rect x="1157" y="1" width="1" height="21" fill="#a0a0a0"/>
<path d="M1623.8 12.9 L1620.2 16.5" stroke="#2260e0" stroke-width="2.6" stroke-linecap="round"/>
<circle cx="1627.3" cy="9.4" r="3.9" fill="#fff" stroke="#1858e0" stroke-width="1.4"/>
<path d="M1653.6 9 a6.4 4.7 0 1 1 9.6 4.1 l0.6 2.2 l-2.6 -1.8 a6.4 4.7 0 0 1 -7.6 -4.5 Z" fill="#fbfbfd" stroke="#9a9aa0" stroke-width="0.8"/>
<path d="M1646.4 13.7 a5 4 0 1 1 3.2 3.7 l-2.2 1.8 l0.5 -2.4 a5 4 0 0 1 -1.5 -3.1 Z" fill="#f8f8fb" stroke="#9a9aa0" stroke-width="0.8"/>
</svg>

</body></html>
